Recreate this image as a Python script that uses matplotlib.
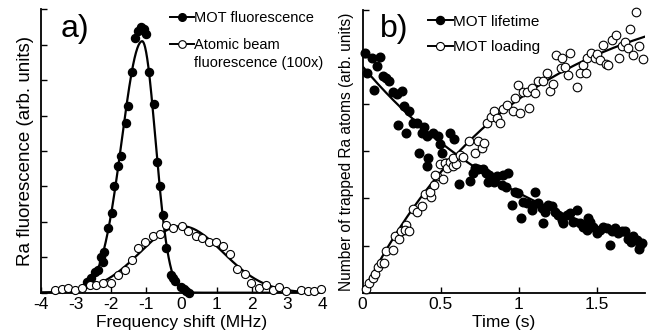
import numpy as np
import matplotlib
matplotlib.use("Agg")
import matplotlib.pyplot as plt
from matplotlib.lines import Line2D

plt.rcParams['font.family'] = ['Liberation Sans', 'DejaVu Sans']
plt.rcParams['axes.unicode_minus'] = False

# ---------------- Panel a data ----------------
mot_freq = [-2.70, -2.58, -2.47, -2.37, -2.30, -2.23, -2.20, -2.10, -1.99, -1.93,
            -1.80, -1.71, -1.59, -1.52, -1.42, -1.33, -1.24, -1.15, -1.07, -1.00,
            -0.92, -0.79, -0.71, -0.60, -0.53, -0.43, -0.31, -0.24, -0.19, -0.02,
            0.07, 0.12, 0.20]
mot_fluo = [0.31, 0.41, 0.59, 0.64, 1.00, 0.88, 1.16, 1.82, 2.25, 3.00,
            3.57, 3.85, 4.79, 5.28, 6.24, 7.20, 7.40, 7.50, 7.45, 7.30,
            6.24, 5.34, 3.69, 3.00, 2.20, 1.26, 0.50, 0.41, 0.34, 0.15,
            0.10, 0.06, 0.00]

beam_freq = [-3.60, -3.41, -3.22, -3.03, -2.82, -2.61, -2.42, -2.23, -2.01, -1.80,
             -1.61, -1.42, -1.24, -1.03, -0.81, -0.62, -0.43, -0.24, 0.00, 0.18,
             0.40, 0.59, 0.78, 0.99, 1.18, 1.39, 1.59, 1.80, 1.99, 2.20,
             2.41, 2.60, 2.79, 2.98, 3.41, 3.59, 3.78, 3.97]
beam_fluo = [0.08, 0.10, 0.12, 0.08, 0.12, 0.22, 0.22, 0.27, 0.27, 0.50,
             0.64, 0.93, 1.26, 1.42, 1.59, 1.66, 1.92, 1.82, 1.89, 1.75,
             1.60, 1.54, 1.44, 1.44, 1.32, 1.10, 0.66, 0.53, 0.28, 0.12,
             0.22, 0.08, 0.15, 0.05, 0.08, 0.05, 0.05, 0.10]

# fit parameters: amplitude, center, sigma_left, sigma_right
mot_fit_params = [7.1, -1.12, 0.58, 0.38]
beam_fit_params = [1.88, 0.0, 1.18, 1.18]

# ---------------- Panel b data ----------------
life_t = [0.015, 0.058, 0.11, 0.026, 0.09, 0.072, 0.13, 0.15, 0.17, 0.196,
          0.218, 0.25, 0.265, 0.30, 0.228, 0.28, 0.325, 0.346, 0.39, 0.378,
          0.41, 0.45, 0.48, 0.495, 0.506, 0.363, 0.42, 0.41, 0.56, 0.585,
          0.534, 0.62, 0.69, 0.709, 0.72, 0.74, 0.77, 0.79, 0.805, 0.81,
          0.84, 0.86, 0.89, 0.92, 0.90, 0.933, 0.955, 0.976, 0.998, 1.013,
          1.03, 1.05, 1.083, 1.094, 1.104, 1.125, 1.147, 1.158, 1.17, 1.19,
          1.21, 1.23, 1.25, 1.276, 1.286, 1.31, 1.33, 1.35, 1.37, 1.39,
          1.41, 1.436, 1.446, 1.457, 1.478, 1.50, 1.52, 1.54, 1.564, 1.585,
          1.596, 1.617, 1.638, 1.66, 1.68, 1.70, 1.718, 1.735, 1.756, 1.77,
          1.78, 1.788]
life_n = [5.08, 4.98, 5.01, 4.66, 4.81, 4.30, 4.59, 4.55, 4.50, 4.25,
          4.22, 4.29, 3.96, 3.86, 3.56, 3.40, 3.61, 3.60, 3.52, 3.40,
          3.33, 3.38, 3.33, 3.16, 2.96, 2.96, 2.85, 2.68, 3.38, 3.26,
          2.75, 2.31, 2.38, 2.53, 2.64, 2.62, 2.62, 2.55, 2.36, 2.50,
          2.36, 2.48, 2.29, 2.25, 2.50, 2.53, 1.86, 2.14, 2.11, 1.58,
          1.93, 1.90, 1.76, 1.86, 2.14, 1.90, 1.79, 1.47, 1.72, 1.86,
          1.83, 1.72, 1.65, 1.54, 1.47, 1.65, 1.69, 1.51, 1.76, 1.47,
          1.40, 1.33, 1.58, 1.51, 1.40, 1.26, 1.33, 1.40, 1.37, 1.01,
          1.30, 1.37, 1.26, 1.30, 1.30, 1.15, 1.08, 1.20, 1.12, 0.92,
          1.01, 1.06]

load_t = [0.021, 0.042, 0.068, 0.079, 0.10, 0.115, 0.137, 0.15, 0.192, 0.207,
          0.235, 0.244, 0.278, 0.27, 0.30, 0.32, 0.346, 0.378, 0.40, 0.436,
          0.43, 0.457, 0.478, 0.513, 0.463, 0.495, 0.528, 0.542, 0.56, 0.577,
          0.60, 0.58, 0.624, 0.645, 0.683, 0.72, 0.741, 0.763, 0.778, 0.795,
          0.82, 0.842, 0.859, 0.88, 0.897, 0.927, 0.96, 0.976, 1.008, 1.068,
          0.997, 1.03, 1.055, 1.083, 1.104, 1.126, 1.154, 1.18, 1.20, 1.22,
          1.24, 1.276, 1.27, 1.297, 1.318, 1.33, 1.37, 1.39, 1.41, 1.43,
          1.44, 1.46, 1.49, 1.50, 1.52, 1.54, 1.56, 1.574, 1.60, 1.62,
          1.64, 1.66, 1.68, 1.70, 1.714, 1.735, 1.75, 1.77, 1.795]
load_n = [0.07, 0.21, 0.31, 0.40, 0.54, 0.64, 0.62, 0.89, 0.91, 1.20,
          1.13, 1.30, 1.44, 1.33, 1.30, 1.77, 1.72, 1.84, 2.10, 2.04,
          2.14, 2.29, 2.48, 2.41, 2.50, 2.73, 2.75, 2.64, 2.78, 2.69,
          2.73, 2.85, 2.92, 2.89, 3.21, 2.97, 3.21, 3.07, 3.18, 3.61,
          3.72, 3.86, 3.70, 3.61, 3.89, 3.98, 3.86, 4.13, 3.81, 3.93,
          4.41, 4.25, 4.25, 4.34, 4.23, 4.49, 4.49, 4.66, 4.28, 4.42,
          5.05, 4.99, 4.76, 4.80, 4.62, 5.08, 4.37, 4.66, 4.84, 4.66,
          4.98, 5.08, 4.99, 5.06, 4.94, 5.26, 4.85, 4.84, 5.37, 5.46,
          4.98, 5.24, 5.33, 5.19, 5.60, 5.05, 5.95, 5.24, 4.96]

# fit parameters: lifetime  N0, tau ; loading  Ninf, tau
life_fit_params = [4.8, 1.22]
load_fit_params = [6.5, 1.0]

# ---------------- Figure ----------------
fig = plt.figure(figsize=(6.55, 3.33), dpi=100)
axa = fig.add_axes([0.0626, 0.121, 0.429, 0.851])
axb = fig.add_axes([0.5537, 0.121, 0.4313, 0.849])

def style(ax):
    for s in ['top', 'right']:
        ax.spines[s].set_visible(False)
    for s in ['left', 'bottom']:
        ax.spines[s].set_linewidth(1.3)
    ax.tick_params(direction='in', length=4, width=1.0, labelsize=12.5, pad=3)

# Panel a
style(axa)
fx = np.linspace(-4, 4, 800)
A, c, sl, sr = mot_fit_params
mot_fit = A * np.exp(-(fx - c) ** 2 / (2 * np.where(fx < c, sl, sr) ** 2))
A2, c2, sl2, sr2 = beam_fit_params
beam_fit = A2 * np.exp(-(fx - c2) ** 2 / (2 * np.where(fx < c2, sl2, sr2) ** 2))
axa.plot(fx, beam_fit, color='black', lw=1.6, zorder=2)
axa.plot(fx, mot_fit, color='black', lw=1.6, zorder=2)
axa.plot(mot_freq, mot_fluo, 'o', ms=5.8, mfc='black', mec='black', zorder=3, clip_on=False)
axa.plot(beam_freq, beam_fluo, 'o', ms=5.8, mfc='white', mec='black', mew=0.8, zorder=3, clip_on=False)
axa.set_xlim(-4, 4)
axa.set_ylim(0, 8)
axa.set_xticks(range(-4, 5))
axa.set_xticklabels([str(v) for v in range(-4, 5)])
axa.set_yticks(range(0, 9))
axa.set_yticklabels([])
axa.set_xlabel('Frequency shift (MHz)', fontsize=12.5, labelpad=2)
axa.set_ylabel('Ra fluorescence (arb. units)', fontsize=13.5, labelpad=2)
axa.text(0.07, 0.985, 'a)', transform=axa.transAxes, fontsize=23, va='top', ha='left')

h1 = Line2D([], [], color='black', lw=1.4, marker='o', ms=5.5, mfc='black', mec='black')
h2 = Line2D([], [], color='black', lw=1.4, marker='o', ms=5.5, mfc='white', mec='black', mew=0.8)
h3 = Line2D([], [], color='none')
leg1 = axa.legend([h1], ['MOT fluorescence'],
                  loc='upper left', bbox_to_anchor=(0.44, 1.015), frameon=False, fontsize=10.5,
                  handlelength=1.6, handletextpad=0.0, borderaxespad=0)
axa.add_artist(leg1)
axa.legend([h2, h3], ['Atomic beam', 'fluorescence (100x)'],
           loc='upper left', bbox_to_anchor=(0.44, 0.92), frameon=False, fontsize=10.5,
           handlelength=1.6, handletextpad=0.0, labelspacing=0.3, borderaxespad=0)

# Panel b
style(axb)
tt = np.linspace(0, 1.81, 400)
N0, tau1 = life_fit_params
Ninf, tau2 = load_fit_params
axb.plot(tt, N0 * np.exp(-tt / tau1), color='black', lw=1.6, zorder=2)
axb.plot(tt, Ninf * (1 - np.exp(-tt / tau2)), color='black', lw=1.6, zorder=2)
axb.plot(life_t, life_n, 'o', ms=6.2, mfc='black', mec='black', zorder=3, clip_on=False)
axb.plot(load_t, load_n, 'o', ms=6.2, mfc='white', mec='black', mew=0.8, zorder=3, clip_on=False)
axb.set_xlim(0, 1.81)
axb.set_ylim(0, 6)
axb.set_xticks([0, 0.5, 1, 1.5])
axb.set_xticklabels(['0', '0.5', '1', '1.5'])
axb.set_yticks(range(0, 7))
axb.set_yticklabels([])
axb.set_xlabel('Time (s)', fontsize=12.5, labelpad=2)
axb.set_ylabel('Number of trapped Ra atoms (arb. units)', fontsize=11.2, labelpad=3)
axb.text(0.06, 0.985, 'b)', transform=axb.transAxes, fontsize=23, va='top', ha='left')

g1 = Line2D([], [], color='black', lw=1.4, marker='o', ms=5.8, mfc='black', mec='black')
g2 = Line2D([], [], color='black', lw=1.4, marker='o', ms=5.8, mfc='white', mec='black', mew=0.8)
axb.legend([g1, g2], ['MOT lifetime', 'MOT loading'],
           loc='upper left', bbox_to_anchor=(0.21, 1.005), frameon=False, fontsize=11,
           handlelength=1.6, handletextpad=0.0, labelspacing=0.75, borderaxespad=0)

fig.savefig('out.png', dpi=100)
